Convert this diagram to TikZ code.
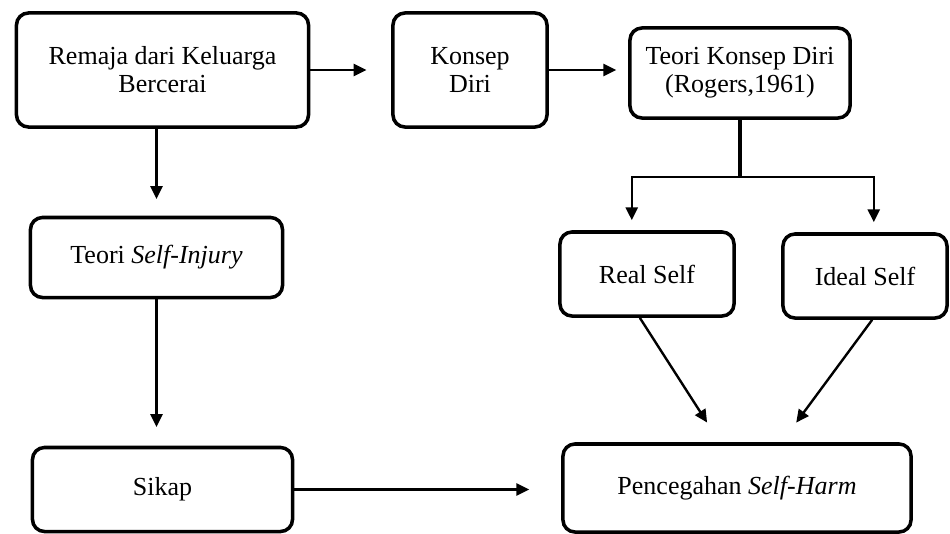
\documentclass[tikz,border=0pt]{standalone}
\usepackage{fontspec}
\setmainfont{Liberation Serif}
\usetikzlibrary{shapes,arrows.meta,positioning}

\begin{document}
\begin{tikzpicture}[% one unit is one pixel of the reference
					x=0.025cm, y=-0.025cm,
					every node/.style={
						align=center,  		% so that "\\" breaks the line
						font=\fontsize{18.5}{20}\selectfont
						},
					box/.style={rectangle,rounded corners=0.3cm,draw=black,line width=2.5pt,fill=white},
					>={Triangle[length=0.32cm,width=0.3cm]},
					link/.style={line width=1.7pt}
					]
\useasboundingbox (0,0) rectangle (950,534);
\node[box,minimum width=7.3cm,minimum height=2.85cm](Rem) at (162.5,70){Remaja dari Keluarga\\Bercerai};
\node[box,minimum width=3.85cm,minimum height=2.85cm](Konsep) at (470,70){Konsep\\Diri};
\node[box,minimum width=5.5cm,minimum height=2.25cm](TeoriKD) at (740,73){Teori Konsep Diri\\(Rogers,1961)};
\node[box,minimum width=6.3cm,minimum height=2.0cm](Injury) at (156.5,257.5){Teori \textit{Self-Injury}};
\node[box,minimum width=6.5cm,minimum height=2.1cm](Sikap) at (162.5,489.5){Sikap};
\node[box,minimum width=4.35cm,minimum height=2.1cm](Real) at (647,274){Real Self};
\node[box,minimum width=4.1cm,minimum height=2.1cm](Ideal) at (865,276){Ideal Self};
\node[box,minimum width=8.7cm,minimum height=2.2cm](Cegah) at (737,488){Pencegahan \textit{Self-Harm}};
\coordinate (Split) at (TeoriKD.south |- 0,177);
\path[link]
(Rem.east) edge [->,shorten >=0.62cm] (Konsep.west |- Rem.east)
(Konsep.east) edge [->,shorten >=0.3cm] (TeoriKD.west |- Konsep.east)
(Injury.north |- Rem.south) edge [->,shorten >=0.42cm] (Injury.north)
(Injury.south) edge [->,shorten >=0.47cm] (Injury.south |- Sikap.north)
(Sikap.east) edge [->,shorten >=0.8cm] (Sikap.east -| Cegah.west)
([xshift=-0.18cm]Real.south) edge [->,shorten >=0.05cm] ([xshift=-0.72cm,yshift=0.45cm]Cegah.north)
([xshift=0.18cm]Ideal.south) edge [->,shorten >=0.05cm] ([xshift=1.45cm,yshift=0.45cm]Cegah.north)
;
% split from the theory box to both selves
\draw[link,line width=2.3pt] (TeoriKD.south) -- (Split);
\draw[link,->] (Split) -| ([xshift=-0.38cm,yshift=0.25cm]Real.north);
\draw[link,->] (Split) -| ([xshift=0.22cm,yshift=0.25cm]Ideal.north);
\end{tikzpicture}
\end{document}
